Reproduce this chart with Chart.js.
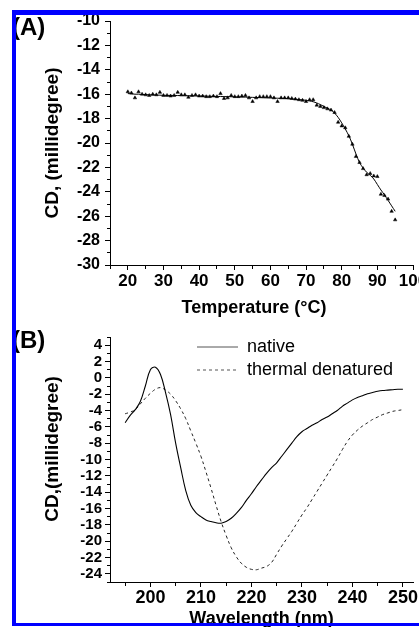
<!DOCTYPE html>
<html><head><meta charset="utf-8">
<script src="https://cdn.jsdelivr.net/npm/chart.js@4.4.0/dist/chart.umd.min.js"></script>
<style>
html,body{margin:0;padding:0;background:#fff;width:419px;height:627px;overflow:hidden;position:relative;}
canvas{position:absolute;left:0;top:0;}
.panel{position:absolute;font:bold 24px "Liberation Sans",Arial,sans-serif;line-height:24px;color:#000;z-index:3;}
.bd{position:absolute;background:#0000ff;z-index:5;}
</style></head><body>
<canvas id="cA" width="419" height="627"></canvas>
<canvas id="cB" width="419" height="650"></canvas>
<div class="panel" style="left:12px;top:15px">(A)</div>
<div class="panel" style="left:12px;top:328px">(B)</div>
<div class="bd" style="left:12px;top:10px;width:407px;height:5px"></div>
<div class="bd" style="left:12px;top:10px;width:4px;height:616px"></div>
<div class="bd" style="left:12px;top:623px;width:407px;height:3px"></div>
<script>
// ---------- Panel A: thermal melt ----------
const temps = [20,21,22,23,24,25,26,27,28,29,30,31,32,33,34,35,36,37,38,39,40,41,42,43,44,45,46,47,48,49,50,51,52,53,54,55,56,57,58,59,60,61,62,63,64,65,66,67,68,69,70,71,72,73,74,75,76,77,78,79,80,81,82,83,84,85,86,87,88,89,90,91,92,93,94,95];
const cdPoints = [-15.8,-15.9,-16.3,-15.8,-16.0,-16.05,-16.1,-16.0,-16.05,-15.85,-16.1,-16.1,-16.15,-16.1,-15.85,-16.05,-16.05,-16.25,-16.1,-16.05,-16.15,-16.15,-16.2,-16.2,-16.15,-16.2,-15.95,-16.35,-16.3,-16.1,-16.2,-16.2,-16.15,-16.1,-16.3,-16.6,-16.3,-16.2,-16.2,-16.2,-16.2,-16.3,-16.6,-16.3,-16.3,-16.3,-16.35,-16.4,-16.45,-16.5,-16.6,-16.45,-16.45,-16.9,-17.0,-17.1,-17.2,-17.3,-17.5,-18.3,-18.6,-18.75,-19.45,-20.1,-21.1,-21.6,-22.1,-22.6,-22.5,-22.7,-22.75,-24.2,-24.3,-24.6,-25.6,-26.3];
const cdFit = [-15.95,-15.97,-16.0,-16.0,-16.02,-16.03,-16.05,-16.06,-16.07,-16.08,-16.09,-16.1,-16.1,-16.1,-16.11,-16.12,-16.12,-16.13,-16.13,-16.14,-16.15,-16.15,-16.16,-16.17,-16.18,-16.18,-16.19,-16.2,-16.2,-16.21,-16.22,-16.23,-16.23,-16.24,-16.25,-16.26,-16.27,-16.28,-16.29,-16.3,-16.31,-16.32,-16.33,-16.34,-16.35,-16.37,-16.39,-16.41,-16.44,-16.47,-16.5,-16.55,-16.62,-16.72,-16.85,-17.0,-17.15,-17.3,-17.55,-17.9,-18.35,-18.85,-19.4,-20.1,-20.9,-21.6,-22.05,-22.4,-22.65,-22.95,-23.4,-23.85,-24.25,-24.7,-25.15,-25.6];
const tempTicks = [15,20,25,30,35,40,45,50,55,60,65,70,75,80,85,90,95,100];
const tempLabels = [20,30,40,50,60,70,80,90,100];
const cdATicks = [-30,-29,-28,-27,-26,-25,-24,-23,-22,-21,-20,-19,-18,-17,-16,-15,-14,-13,-12,-11,-10];
const cdALabels = [-30,-28,-26,-24,-22,-20,-18,-16,-14,-12,-10];

// ---------- Panel B: CD spectra ----------
const wavelengths = [195,196,197,198,199,200,201,202,203,204,205,206,207,208,209,210,211,212,213,214,215,216,217,218,219,220,221,222,223,224,225,226,227,228,229,230,231,232,233,234,235,236,237,238,239,240,241,242,243,244,245,246,247,248,249,250];
const nativeCD = [-5.5,-4.6,-3.9,-2.9,-1.0,1.0,1.3,0.4,-1.8,-4.5,-8.0,-11.0,-13.8,-15.6,-16.5,-17.0,-17.4,-17.6,-17.75,-17.8,-17.6,-17.2,-16.6,-15.9,-15.0,-14.2,-13.3,-12.5,-11.7,-11.0,-10.4,-9.6,-8.8,-8.0,-7.2,-6.6,-6.2,-5.8,-5.5,-5.1,-4.8,-4.4,-4.0,-3.5,-3.1,-2.7,-2.4,-2.2,-1.95,-1.8,-1.65,-1.55,-1.5,-1.45,-1.4,-1.4];
const denaturedCD = [-4.4,-4.2,-3.9,-3.2,-2.5,-1.9,-1.4,-1.2,-1.5,-2.0,-2.8,-3.8,-5.0,-6.5,-8.0,-9.6,-11.5,-13.5,-15.6,-17.6,-19.3,-20.8,-21.9,-22.7,-23.2,-23.45,-23.5,-23.3,-23.1,-22.6,-21.6,-20.6,-19.7,-18.8,-17.8,-16.8,-15.9,-14.9,-13.9,-12.9,-11.9,-10.9,-9.9,-8.8,-7.8,-7.0,-6.4,-5.9,-5.5,-5.1,-4.8,-4.5,-4.3,-4.1,-4.0,-3.9];
const waveTicks = [195,200,205,210,215,220,225,230,235,240,245,250];
const waveLabels = [200,210,220,230,240,250];
const cdBTicks = [-25,-24,-23,-22,-21,-20,-19,-18,-17,-16,-15,-14,-13,-12,-11,-10,-9,-8,-7,-6,-5,-4,-3,-2,-1,0,1,2,3,4,5];
const cdBLabels = [-24,-22,-20,-18,-16,-14,-12,-10,-8,-6,-4,-2,0,2,4];
const seriesNames = ['native','thermal denatured'];

const FF = '"Liberation Sans", Arial, Helvetica, sans-serif';

function axis(o) {
  return {
    type: 'linear', position: o.pos, min: o.min, max: o.max,
    afterBuildTicks: s => { s.ticks = o.ticks.map(v => ({value: v})); },
    afterFit: s => {
      if (o.pos === 'left') s.width = o.size; else s.height = o.size;
      s.paddingLeft = 0; s.paddingRight = 0; s.paddingTop = 0; s.paddingBottom = 0;
    },
    ticks: {
      autoSkip: false, maxRotation: 0, minRotation: 0, padding: o.pad, color: '#000',
      font: {family: FF, size: o.tickFont, weight: 'bold'},
      callback: v => o.labels.includes(v) ? String(v) : ''
    },
    grid: {
      display: true, drawOnChartArea: false, drawTicks: true, tickLength: 5,
      tickColor: '#000', tickWidth: 1,
      tickBorderDash: c => (c.tick && o.labels.includes(c.tick.value)) ? [] : (o.pos === 'left' ? [0, 2, 3, 100] : [3, 100])
    },
    border: {display: true, color: '#000', width: 1},
    title: {display: true, text: o.title, color: '#000',
      font: {family: FF, size: o.titleFont, weight: 'bold', lineHeight: 1.2},
      padding: o.titlePad}
  };
}

new Chart(document.getElementById('cA'), {
  type: 'scatter',
  data: {datasets: [
    {label: 'data', data: temps.map((t, i) => ({x: t, y: cdPoints[i]})), showLine: false,
     pointStyle: 'triangle', pointRadius: 2, backgroundColor: '#000', borderColor: '#000', borderWidth: 0.5},
    {label: 'fit', data: temps.map((t, i) => ({x: t, y: cdFit[i]})), showLine: true,
     pointRadius: 0, borderColor: '#000', borderWidth: 1, tension: 0.3}
  ]},
  options: {
    responsive: false, animation: false, devicePixelRatio: 1, events: [],
    layout: {padding: {left: 0, right: 6, top: 21, bottom: 302}},
    plugins: {legend: {display: false}, tooltip: {enabled: false}},
    scales: {
      x: axis({pos: 'bottom', min: 15, max: 100, ticks: tempTicks, labels: tempLabels, tickFont: 17, pad: 1,
               size: 60, title: 'Temperature (°C)   ', titleFont: 18, titlePad: {top: 0, bottom: 6}}),
      y: axis({pos: 'left', min: -30, max: -10, ticks: cdATicks, labels: cdALabels, tickFont: 16, pad: 5,
               size: 110, title: 'CD, (millidegree)', titleFont: 19, titlePad: {top: 41.6, bottom: 0}})
    }
  }
});

const legendPlacer = {
  id: 'legendPlacer',
  afterLayout(chart) {
    const lg = chart.legend;
    if (lg) { lg.left = 192; lg.top = 333; lg.right = 413; lg.bottom = 582; }
  }
};

new Chart(document.getElementById('cB'), {
  type: 'scatter',
  data: {datasets: [
    {label: seriesNames[0], data: wavelengths.map((w, i) => ({x: w, y: nativeCD[i]})), showLine: true,
     pointRadius: 0, borderColor: '#000', borderWidth: 1.1, tension: 0.4},
    {label: seriesNames[1], data: wavelengths.map((w, i) => ({x: w, y: denaturedCD[i]})), showLine: true,
     pointRadius: 0, borderColor: '#222', borderWidth: 1, borderDash: [3, 3], tension: 0.4}
  ]},
  options: {
    responsive: false, animation: false, devicePixelRatio: 1, events: [],
    layout: {padding: {left: 0, right: 6, top: 337, bottom: 0}},
    plugins: {
      tooltip: {enabled: false},
      legend: {display: true, position: 'chartArea', align: 'start',
        labels: {usePointStyle: true, pointStyle: 'line', pointStyleWidth: 41, padding: 5,
                 color: '#000', font: {family: FF, size: 18},
                 generateLabels: chart => Chart.defaults.plugins.legend.labels.generateLabels(chart).map((it, i) => Object.assign(it, {
                   lineDash: chart.data.datasets[i].borderDash || [], strokeStyle: '#555', lineWidth: 1
                 }))}}
    },
    scales: {
      x: axis({pos: 'bottom', min: 192, max: 252, ticks: waveTicks, labels: waveLabels, tickFont: 18, pad: 0,
               size: 68, title: 'Wavelength (nm)', titleFont: 18, titlePad: {top: 0, bottom: 20}}),
      y: axis({pos: 'left', min: -25, max: 5, ticks: cdBTicks, labels: cdBLabels, tickFont: 15, pad: 3,
               size: 110, title: '    CD,(millidegree)', titleFont: 19, titlePad: {top: 41.6, bottom: 0}})
    }
  },
  plugins: [legendPlacer]
});
</script>
</body></html>
